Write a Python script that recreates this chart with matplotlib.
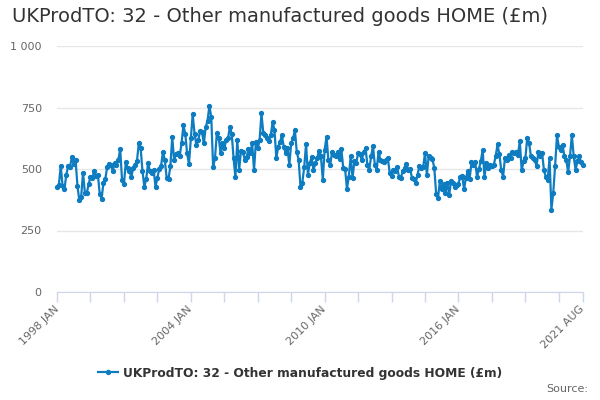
import matplotlib
matplotlib.use("Agg")
import matplotlib.pyplot as plt
from matplotlib.lines import Line2D
import numpy as np

# monthly values, £m (1998 JAN .. 2021 AUG)
vals_1998_2003 = [
    428, 435, 513, 431, 418, 477, 511, 508, 548, 521, 537, 431,
    374, 388, 484, 404, 402, 437, 468, 464, 491, 473, 477, 398,
    380, 444, 460, 508, 521, 517, 491, 524, 517, 537, 580, 455,
    437, 527, 504, 491, 468, 504, 517, 531, 604, 584, 491, 428,
    460, 524, 491, 484, 497, 428, 464, 500, 513, 570, 537, 464,
    460, 511, 630, 537, 561, 564, 552, 604, 677, 644, 564, 521,
]
vals_2004_2009 = [
    624, 723, 644, 597, 617, 654, 650, 604, 670, 697, 757, 710,
    508, 544, 646, 628, 564, 604, 584, 617, 624, 670, 644, 544,
    466, 618, 497, 574, 570, 538, 548, 580, 564, 604, 495, 610,
    584, 617, 726, 646, 637, 624, 613, 637, 690, 660, 544, 590,
    610, 637, 590, 566, 584, 517, 604, 624, 657, 570, 537, 428,
    444, 508, 601, 477, 524, 548, 495, 524, 544, 574, 551, 457,
]
vals_2010_2015 = [
    577, 632, 537, 517, 570, 557, 551, 570, 540, 580, 504, 500,
    420, 468, 551, 464, 531, 524, 564, 561, 535, 570, 584, 517,
    497, 551, 593, 517, 497, 570, 537, 531, 527, 537, 544, 484,
    473, 497, 491, 508, 468, 464, 491, 504, 521, 497, 500, 464,
    460, 444, 477, 513, 504, 508, 564, 477, 553, 544, 540, 504,
    398, 384, 451, 418, 437, 404, 444, 394, 451, 444, 428, 433,
]
vals_2016_2021 = [
    441, 468, 473, 418, 464, 491, 460, 527, 517, 527, 468, 500,
    531, 577, 468, 524, 504, 517, 511, 517, 551, 600, 560, 497,
    468, 544, 537, 557, 544, 570, 564, 570, 557, 614, 495, 531,
    544, 628, 605, 551, 544, 537, 513, 570, 551, 564, 495, 468,
    457, 544, 335, 404, 513, 637, 590, 577, 597, 551, 537, 487,
    551, 637, 551, 497, 531, 551, 527, 517,
]

tick_months = [0, 18, 36, 54, 72, 90, 108, 126, 144, 162, 180, 198,
               216, 234, 252, 270, 283]
tick_text = {0: "1998 JAN", 72: "2004 JAN", 144: "2010 JAN",
             216: "2016 JAN", 283: "2021 AUG"}
y_ticks = [0, 250, 500, 750, 1000]
y_text = ["0", "250", "500", "750", "1 000"]

series_name = "UKProdTO: 32 - Other manufactured goods HOME (£m)"
blue = "#0d7cc1"

values = np.array(vals_1998_2003 + vals_2004_2009 + vals_2010_2015 + vals_2016_2021)
months = np.arange(len(values))

fig = plt.figure(figsize=(6, 4), dpi=100)
ax = fig.add_axes([57 / 600, 1 - 292 / 400, 526 / 600, 246 / 400])

ax.plot(months, values, color=blue, lw=1.6, marker="o", ms=2.8,
        clip_on=False, zorder=3)

ax.set_xlim(0, len(values) - 1)
ax.set_ylim(0, 1000)
ax.set_yticks(y_ticks)
ax.set_yticklabels(y_text)
ax.grid(axis="y", color="#e6e6e6", lw=1)
ax.set_axisbelow(True)
ax.tick_params(axis="y", length=0, pad=11, labelsize=8, labelcolor="#666666")

ax.set_xticks(tick_months)
ax.set_xticklabels([tick_text.get(m, "") for m in tick_months])
ax.tick_params(axis="x", direction="out", length=7, width=1, color="#ccd6eb",
               pad=4, labelsize=8, labelcolor="#666666")
for lab in ax.get_xticklabels():
    lab.set_rotation(45)
    lab.set_ha("right")
    lab.set_va("center")
    lab.set_rotation_mode("anchor")

for side in ("top", "right", "left"):
    ax.spines[side].set_visible(False)
ax.spines["bottom"].set_color("#ccd6eb")

fig.text(12 / 600, 1 - 17 / 400, "UKProdTO: 32 - Other manufactured goods HOME (£m)",
         fontsize=14, color="#333333", va="center", ha="left")

handle = Line2D([], [], color=blue, lw=1.6, marker="o", ms=2.8)
leg = fig.legend([handle], [series_name], loc="center", bbox_to_anchor=(0.5, 1 - 373 / 400),
                 frameon=False, prop={"weight": "bold", "size": 8.8},
                 handlelength=1.6, handletextpad=0.4)
for t in leg.get_texts():
    t.set_color("#333333")

fig.text(588 / 600, 1 - 389 / 400, "Source:", fontsize=8, color="#666666",
         ha="right", va="center")

fig.savefig("out.png", dpi=100)
